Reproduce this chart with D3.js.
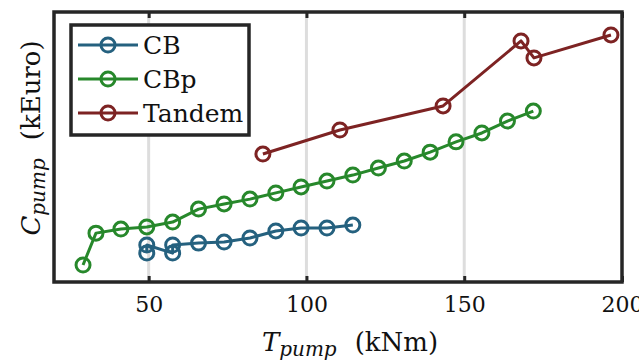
<!DOCTYPE html>
<html>
<head>
<meta charset="utf-8">
<script src="https://cdn.jsdelivr.net/npm/d3@7"></script>
<style>
  html, body { margin: 0; padding: 0; background: #fff; }
  svg { display: block; }
</style>
</head>
<body>
<svg id="chart" width="639" height="361"></svg>
<script>
// Pump torque (kNm) vs pump cost (kEuro, relative scale)
const xTicks = [50, 100, 150, 200];

const cbTorque  = [49.4, 49.4, 57.6, 57.6, 65.8, 73.9, 82.1, 90.3, 98.3, 106.5, 114.7];
const cbCost    = [10.7, 13.7, 10.7, 13.7, 14.4, 14.8, 16.3, 18.9, 20.0, 20.0, 21.1];

const cbpTorque = [29.2, 33.3, 41.2, 49.4, 57.6, 65.8, 73.9, 82.1, 90.3, 98.3, 106.5, 114.7, 122.8, 131.0, 139.2, 147.4, 155.6, 163.7, 171.9];
const cbpCost   = [6.3, 18.1, 19.6, 20.4, 22.2, 27.0, 28.9, 30.7, 33.0, 35.2, 37.4, 39.6, 42.2, 44.8, 48.1, 51.9, 55.2, 59.6, 63.3];

const tandemTorque = [86.2, 110.6, 143.3, 168.0, 172.1, 196.5];
const tandemCost   = [47.4, 56.3, 65.2, 89.3, 83.0, 91.5];

const seriesNames  = ["CB", "CBp", "Tandem"];
const seriesColors = ["#25617f", "#27882b", "#7d2323"];

const series = [
  { name: seriesNames[0], color: seriesColors[0], x: cbTorque, y: cbCost },
  { name: seriesNames[1], color: seriesColors[1], x: cbpTorque, y: cbpCost },
  { name: seriesNames[2], color: seriesColors[2], x: tandemTorque, y: tandemCost }
];

const SERIF = "DejaVu Serif";

const svg = d3.select("#chart");
const plot = { left: 54, right: 622, top: 12, bottom: 282 };

const x = d3.scaleLinear().domain([20, 200]).range([plot.left, plot.right]);
const y = d3.scaleLinear().domain([0, 100]).range([plot.bottom, plot.top]);

// vertical grid lines
svg.append("g")
  .selectAll("line")
  .data(xTicks.filter(t => t < 200))
  .join("line")
  .attr("x1", d => x(d)).attr("x2", d => x(d))
  .attr("y1", plot.top).attr("y2", plot.bottom)
  .attr("stroke", "#dddddd").attr("stroke-width", 3);

// series lines and hollow circle markers
const line = d3.line().x(d => x(d[0])).y(d => y(d[1]));
series.forEach(s => {
  const pts = s.x.map((v, i) => [v, s.y[i]]);
  const g = svg.append("g");
  g.append("path")
    .attr("d", line(pts))
    .attr("fill", "none")
    .attr("stroke", s.color)
    .attr("stroke-width", 3)
    .attr("stroke-linejoin", "round");
  g.selectAll("circle")
    .data(pts)
    .join("circle")
    .attr("cx", d => x(d[0])).attr("cy", d => y(d[1]))
    .attr("r", 7)
    .attr("fill", "none")
    .attr("stroke", s.color)
    .attr("stroke-width", 3);
});

// bottom axis: inward ticks + labels
const xAxisBottom = d3.axisBottom(x).tickValues(xTicks).tickSize(-6).tickPadding(14).tickFormat(d3.format("d"));
const axB = svg.append("g").attr("transform", `translate(0,${plot.bottom})`).call(xAxisBottom);
axB.attr("font-family", SERIF).attr("font-size", 22);
axB.select(".domain").remove();
axB.selectAll(".tick line").attr("stroke", "#262626").attr("stroke-width", 3);
axB.selectAll(".tick text").attr("fill", "#111");

// top axis: inward ticks only
const xAxisTop = d3.axisTop(x).tickValues(xTicks).tickSize(-6).tickFormat("");
const axT = svg.append("g").attr("transform", `translate(0,${plot.top})`).call(xAxisTop);
axT.select(".domain").remove();
axT.selectAll(".tick line").attr("stroke", "#262626").attr("stroke-width", 3);

// frame
svg.append("rect")
  .attr("x", plot.left).attr("y", plot.top)
  .attr("width", plot.right - plot.left).attr("height", plot.bottom - plot.top)
  .attr("fill", "none").attr("stroke", "#262626").attr("stroke-width", 3.5);

// axis titles
const xt = svg.append("text")
  .attr("x", 350).attr("y", 351)
  .attr("text-anchor", "middle")
  .attr("font-family", SERIF)
  .attr("font-size", 26)
  .attr("fill", "#111");
xt.append("tspan").attr("font-style", "italic").text("T");
xt.append("tspan").attr("font-style", "italic").attr("font-size", 20).attr("dy", 5).text("pump");
xt.append("tspan").attr("dy", -5).attr("dx", 18).text("(kNm)");

const yt = svg.append("text")
  .attr("transform", "translate(40,138) rotate(-90)")
  .attr("text-anchor", "middle")
  .attr("font-family", SERIF)
  .attr("font-size", 26)
  .attr("fill", "#111");
yt.append("tspan").attr("font-style", "italic").text("C");
yt.append("tspan").attr("font-style", "italic").attr("font-size", 20).attr("dy", 5).text("pump");
yt.append("tspan").attr("dy", -5).attr("dx", 18).text("(kEuro)");

// legend
const lg = svg.append("g");
lg.append("rect")
  .attr("x", 71).attr("y", 25).attr("width", 178).attr("height", 110)
  .attr("fill", "#fff").attr("stroke", "#262626").attr("stroke-width", 3.5);
series.forEach((s, i) => {
  const cy = 45 + i * 34;
  lg.append("line")
    .attr("x1", 78).attr("x2", 138).attr("y1", cy).attr("y2", cy)
    .attr("stroke", s.color).attr("stroke-width", 3);
  lg.append("circle")
    .attr("cx", 108).attr("cy", cy).attr("r", 7)
    .attr("fill", "none").attr("stroke", s.color).attr("stroke-width", 3);
  lg.append("text")
    .attr("x", 143).attr("y", cy + 9)
    .attr("font-family", SERIF)
    .attr("font-size", 25)
    .attr("fill", "#111")
    .text(s.name);
});
</script>
</body>
</html>
